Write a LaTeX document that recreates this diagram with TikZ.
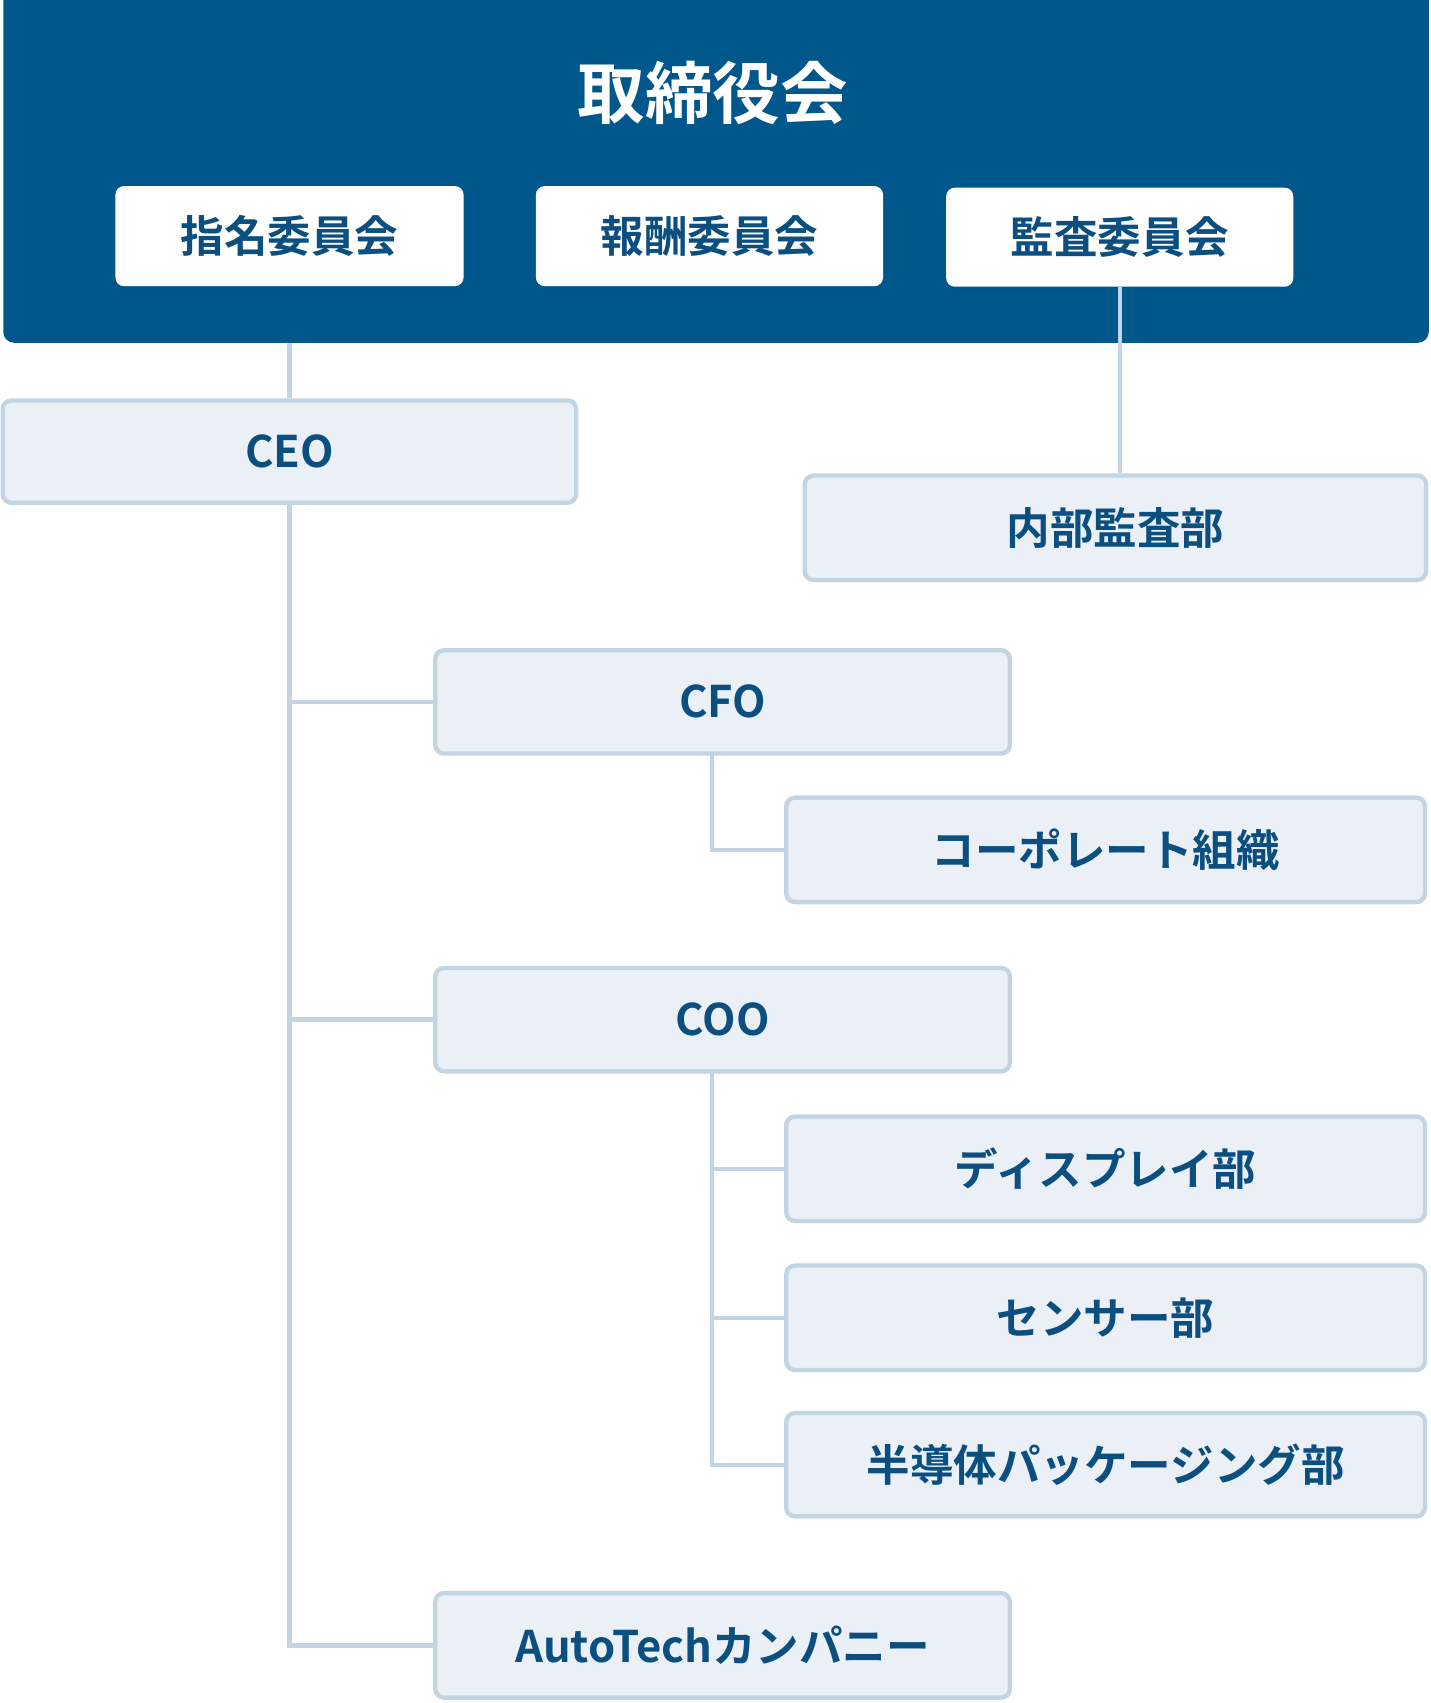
\documentclass[tikz,border=0pt]{standalone}
\usepackage{fontspec}
\setmainfont{Noto Sans CJK JP}[BoldFont={* Bold}]
\definecolor{navy}{HTML}{00578C}
\definecolor{boxfill}{HTML}{EAF0F6}
\definecolor{boxline}{HTML}{C3D5E2}
\definecolor{txt}{HTML}{0B4F80}
\begin{document}
\begin{tikzpicture}[x=1pt,y=-1pt,
 lbox/.style={draw=boxline,line width=4pt,fill=boxfill,rounded corners=8pt,font=\bfseries\fontsize{40}{44}\selectfont,text=txt,inner sep=0pt},
 wbox/.style={fill=white,rounded corners=8pt,font=\bfseries\fontsize{40}{44}\selectfont,text=txt,inner sep=0pt},
 conn/.style={draw=boxline,line width=4pt}]
\useasboundingbox (0,0) rectangle (1315,1565);
\fill[navy,rounded corners=10pt] (3,-20) rectangle (1313,315);
\node[font=\bfseries\fontsize{62}{66}\selectfont,text=white] (board) at (655,85) {取締役会};
\node[wbox,minimum width=320pt,minimum height=92pt] (nom) at (266,217) {指名委員会};
\node[wbox,minimum width=319pt,minimum height=92pt] (rem) at (652,217) {報酬委員会};
\node[wbox,minimum width=319pt,minimum height=91pt] (aud) at (1029,218) {監査委員会};
\node[lbox,minimum width=527pt,minimum height=94pt] (ceo) at (266,415) {CEO};
\node[lbox,minimum width=571pt,minimum height=96pt] (ia) at (1025,485) {内部監査部};
\node[lbox,minimum width=528pt,minimum height=95pt] (cfo) at (664,645) {CFO};
\node[lbox,minimum width=587pt,minimum height=96pt] (corp) at (1016,781) {コーポレート組織};
\node[lbox,minimum width=528pt,minimum height=95pt] (coo) at (664,937) {COO};
\node[lbox,minimum width=587pt,minimum height=96pt] (disp) at (1016,1074) {ディスプレイ部};
\node[lbox,minimum width=587pt,minimum height=96pt] (sens) at (1016,1211) {センサー部};
\node[lbox,minimum width=587pt,minimum height=95pt] (semi) at (1016,1346) {半導体パッケージング部};
\node[lbox,minimum width=528pt,minimum height=96pt] (auto) at (664,1512) {AutoTechカンパニー};
\coordinate (bb) at (266,315);
\begin{scope}[on background layer/.style={}]
\draw[conn] (bb) -- (ceo.north);
\draw[conn] (aud.south) -- (ia.north -| aud.south);
\draw[conn] (ceo.south) |- (auto.west);
\draw[conn] (ceo.south |- cfo.west) -- (cfo.west);
\draw[conn] (ceo.south |- coo.west) -- (coo.west);
\draw[conn] (654,693) |- (corp.west);
\draw[conn] (654,985) |- (semi.west);
\draw[conn] (654,1074) -- (disp.west);
\draw[conn] (654,1211) -- (sens.west);
\end{scope}
\end{tikzpicture}
\end{document}
